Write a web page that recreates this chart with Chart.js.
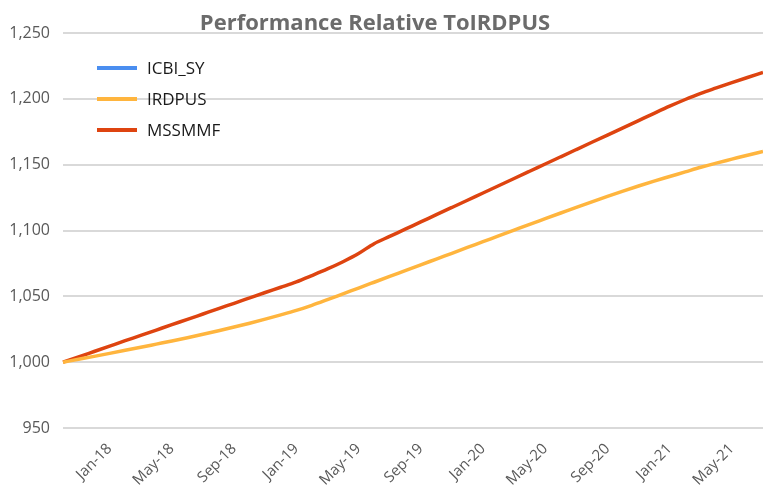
<!DOCTYPE html>
<html>
<head>
<meta charset="utf-8">
<script src="https://cdn.jsdelivr.net/npm/chart.js@4"></script>
<style>
  html, body { margin: 0; padding: 0; background: #fff; }
  #wrap { width: 763px; height: 493px; position: relative; }
</style>
</head>
<body>
<div id="wrap"><canvas id="chart"></canvas></div>
<script>
// monthly points, Oct-17 .. Jul-21
const months = [
  'Oct-17', 'Nov-17', 'Dec-17',
  'Jan-18', 'Feb-18', 'Mar-18', 'Apr-18', 'May-18', 'Jun-18', 'Jul-18', 'Aug-18', 'Sep-18', 'Oct-18', 'Nov-18', 'Dec-18',
  'Jan-19', 'Feb-19', 'Mar-19', 'Apr-19', 'May-19', 'Jun-19', 'Jul-19', 'Aug-19', 'Sep-19', 'Oct-19', 'Nov-19', 'Dec-19',
  'Jan-20', 'Feb-20', 'Mar-20', 'Apr-20', 'May-20', 'Jun-20', 'Jul-20', 'Aug-20', 'Sep-20', 'Oct-20', 'Nov-20', 'Dec-20',
  'Jan-21', 'Feb-21', 'Mar-21', 'Apr-21', 'May-21', 'Jun-21', 'Jul-21'
];
const shownTicks = ['Jan', 'May', 'Sep'];

const icbiSy = [];
const irdpus = [
  1000, 1002.2, 1004.4, 1006.7, 1009.0, 1011.3, 1013.7, 1016.1, 1018.6, 1021.2, 1023.9, 1026.7, 1029.6, 1032.7, 1035.9,
  1039.3, 1043.2, 1047.5, 1051.9, 1056.3, 1060.7, 1065.1, 1069.5, 1073.9, 1078.3, 1082.7, 1087.1, 1091.5, 1095.9, 1100.3,
  1104.7, 1109.0, 1113.3, 1117.6, 1121.8, 1125.9, 1129.9, 1133.8, 1137.5, 1141.0, 1144.5, 1148.0, 1151.2, 1154.2, 1157.2, 1160.0
];
const mssmmf = [
  1000, 1004.0, 1008.1, 1012.2, 1016.3, 1020.3, 1024.4, 1028.5, 1032.5, 1036.6, 1040.7, 1044.7, 1048.8, 1052.9, 1056.9,
  1061.0, 1065.8, 1070.8, 1076.3, 1082.5, 1090.0, 1095.5, 1101.0, 1106.5, 1112.0, 1117.5, 1123.0, 1128.5, 1134.0, 1139.5,
  1145.0, 1150.5, 1156.0, 1161.5, 1167.0, 1172.5, 1178.0, 1183.5, 1189.0, 1194.4, 1199.5, 1204.2, 1208.3, 1212.3, 1216.2, 1220.0
];

const yMin = 950, yMax = 1250, yStep = 50;
const titleText = 'Performance Relative ToIRDPUS';

const FONT = '"Open Sans", "Noto Sans", sans-serif';

// title + in-plot legend drawn over the chart
const overlay = {
  id: 'overlay',
  afterDraw(chart) {
    const ctx = chart.ctx;
    ctx.save();
    ctx.font = 'bold 22px ' + FONT;
    ctx.fillStyle = '#6b6b6b';
    ctx.textAlign = 'center';
    ctx.textBaseline = 'middle';
    ctx.fillText(titleText, 375, 24);

    ctx.font = '17px ' + FONT;
    ctx.textAlign = 'left';
    chart.data.datasets.forEach((ds, i) => {
      const y = 68 + i * 31;
      ctx.strokeStyle = ds.borderColor;
      ctx.lineWidth = 4;
      ctx.beginPath();
      ctx.moveTo(97, y);
      ctx.lineTo(137, y);
      ctx.stroke();
      ctx.fillStyle = '#1a1a1a';
      ctx.fillText(ds.label, 147, y + 1);
    });
    ctx.restore();
  }
};

new Chart(document.getElementById('chart'), {
  type: 'line',
  data: {
    labels: months,
    datasets: [
      { label: 'ICBI_SY', data: icbiSy, borderColor: '#4a8ef0' },
      { label: 'IRDPUS', data: irdpus, borderColor: '#ffb53e' },
      { label: 'MSSMMF', data: mssmmf, borderColor: '#de4410' }
    ]
  },
  options: {
    responsive: true,
    maintainAspectRatio: false,
    animation: false,
    layout: { padding: { top: 33, right: 0, left: 0, bottom: 0 } },
    elements: {
      point: { radius: 0 },
      line: { borderWidth: 3.5, cubicInterpolationMode: 'monotone' }
    },
    plugins: {
      legend: { display: false },
      title: { display: false },
      tooltip: { enabled: false }
    },
    scales: {
      x: {
        offset: false,
        grid: { display: false },
        border: { display: false },
        ticks: {
          autoSkip: false,
          maxRotation: 45,
          minRotation: 45,
          color: '#595959',
          font: { family: FONT, size: 15 },
          padding: 4,
          callback(v) {
            const m = months[v];
            return shownTicks.includes(m.slice(0, 3)) ? m : '';
          }
        },
        afterFit(scale) {
          scale.height = 65;
          scale.paddingLeft = 0;
          scale.paddingRight = 0;
        }
      },
      y: {
        min: yMin,
        max: yMax,
        grid: { color: '#d9d9d9', lineWidth: 2, drawTicks: false },
        border: { display: false },
        ticks: {
          stepSize: yStep,
          color: '#595959',
          font: { family: FONT, size: 16 },
          padding: 13,
          callback: v => v.toLocaleString('en-US')
        },
        afterFit(scale) { scale.width = 63; }
      }
    }
  },
  plugins: [overlay]
});
</script>
</body>
</html>
